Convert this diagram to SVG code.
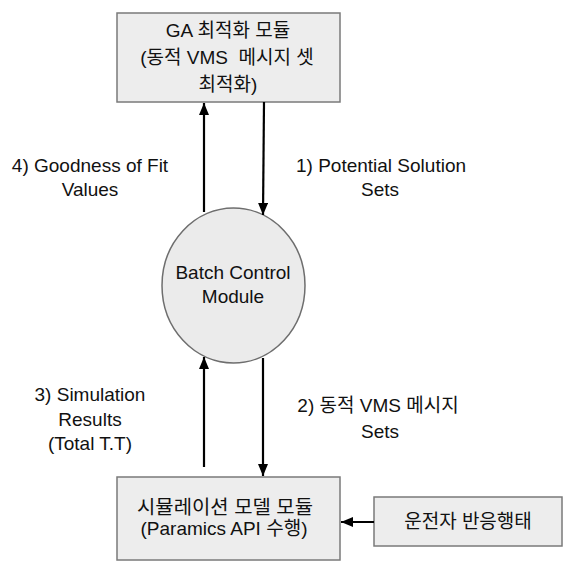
<svg xmlns="http://www.w3.org/2000/svg" width="563" height="563" viewBox="0 0 563 563">
<style>
  text { font-family: "Liberation Sans", "Noto Sans CJK KR", Arial, sans-serif; font-size: 19px; fill: #111; text-anchor: middle; }
  .box { fill: #ededed; stroke: #7a7a7a; stroke-width: 1.5; }
  .circ { fill: #ebebeb; stroke: #6e6e6e; stroke-width: 1.5; }
  .conn { stroke: #000; stroke-width: 2.2; fill: none; marker-end: url(#ah); }
</style>
<defs>
  <marker id="ah" markerUnits="userSpaceOnUse" markerWidth="14" markerHeight="12" refX="12" refY="5" orient="auto">
    <path d="M0,0 L12,5 L0,10 Z" fill="#000"/>
  </marker>
</defs>
<rect width="563" height="563" fill="#fff"/>
<g id="ga-module">
  <rect class="box" x="117" y="13" width="223" height="89"/>
  <text x="228" y="37">GA 최적화 모듈</text>
  <text x="227" y="64" xml:space="preserve">(동적 VMS  메시지 셋</text>
  <text x="228" y="91">최적화)</text>
</g>
<g id="batch-control">
  <ellipse class="circ" cx="233.5" cy="285.5" rx="71.5" ry="77.5"/>
  <text x="233" y="279">Batch Control</text>
  <text x="233" y="303">Module</text>
</g>
<g id="sim-module">
  <rect class="box" x="117" y="477" width="223" height="83"/>
  <text x="225" y="514" textLength="176" lengthAdjust="spacingAndGlyphs">시뮬레이션 모델 모듈</text>
  <text x="224" y="535">(Paramics API 수행)</text>
</g>
<g id="driver">
  <rect class="box" x="374" y="497" width="188" height="49"/>
  <text x="468" y="528">운전자 반응행태</text>
</g>
<g id="connectors">
  <line class="conn" x1="204" y1="212" x2="204" y2="103"/>
  <line class="conn" x1="264" y1="102" x2="263" y2="215"/>
  <line class="conn" x1="204" y1="467" x2="204" y2="357"/>
  <line class="conn" x1="263" y1="358" x2="263" y2="476"/>
  <line class="conn" x1="374" y1="522" x2="341" y2="522"/>
</g>
<g id="labels">
  <text x="90" y="172">4) Goodness of Fit</text>
  <text x="90" y="196">Values</text>
  <text x="381" y="172">1) Potential Solution</text>
  <text x="380" y="196">Sets</text>
  <text x="90" y="401">3) Simulation</text>
  <text x="90" y="426">Results</text>
  <text x="90" y="450">(Total T.T)</text>
  <text x="378" y="412">2) 동적 VMS 메시지</text>
  <text x="380" y="438">Sets</text>
</g>
</svg>
